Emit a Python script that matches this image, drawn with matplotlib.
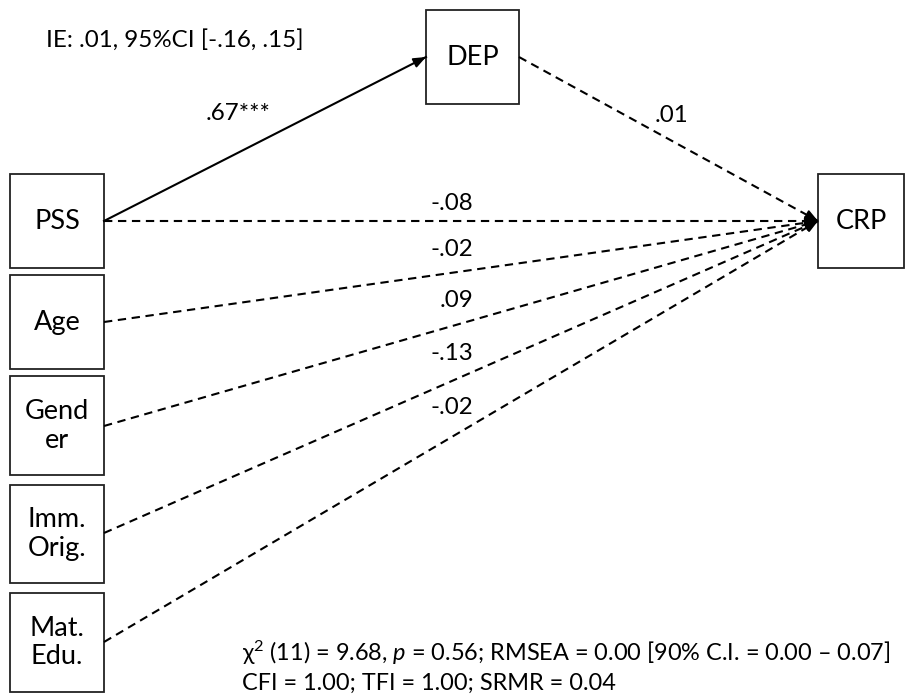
import matplotlib
matplotlib.use("Agg")
import matplotlib.pyplot as plt
from matplotlib.patches import Rectangle

plt.rcParams['font.family'] = ['Lato', 'DejaVu Sans']
plt.rcParams['mathtext.fontset'] = 'custom'
plt.rcParams['mathtext.rm'] = 'Lato'
plt.rcParams['mathtext.it'] = 'Lato:italic'

# path diagram content
predictors = ['PSS', 'Age', 'Gend\ner', 'Imm.\nOrig.', 'Mat.\nEdu.']
direct_coefs = ['-.08', '-.02', '.09', '-.13', '-.02']
a_path = '.67***'
b_path = '.01'
indirect_text = 'IE: .01, 95%CI [-.16, .15]'
fit_line1 = 'χ$^2$ (11) = 9.68, $p$ = 0.56; RMSEA = 0.00 [90% C.I. = 0.00 – 0.07]'
fit_line2 = 'CFI = 1.00; TFI = 1.00; SRMR = 0.04'

FS = 17.4
fig = plt.figure(figsize=(9.05, 6.94), dpi=100)
ax = fig.add_axes([0, 0, 1, 1])
ax.set_xlim(0, 905)
ax.set_ylim(694, 0)
ax.axis('off')

def box(x0, y0, x1, y1, label):
    ax.add_patch(Rectangle((x0, y0), x1 - x0, y1 - y0, fill=False, lw=1.3, ec='#222222'))
    ax.text((x0 + x1) / 2, (y0 + y1) / 2, label, ha='center', va='center',
            fontsize=19.5, linespacing=1.2)

def arrow(p0, p1, dashed=True):
    ls = (0, (4, 2.7)) if dashed else '-'
    ax.plot([p0[0], p1[0]], [p0[1], p1[1]], color='black', lw=1.5, linestyle=ls)
    dx, dy = p1[0] - p0[0], p1[1] - p0[1]
    d = (dx ** 2 + dy ** 2) ** 0.5
    start = (p1[0] - dx / d * 12, p1[1] - dy / d * 12)
    ax.annotate('', xy=p1, xytext=start,
                arrowprops=dict(arrowstyle='-|>,head_length=0.75,head_width=0.3',
                                color='black', lw=1.3, shrinkA=0, shrinkB=0))

# boxes
left_x0, left_x1 = 10, 104
tops = [174, 275, 376, 485, 593]
bottoms = [268, 369, 475, 583, 692]
for lab, t, b in zip(predictors, tops, bottoms):
    box(left_x0, t, left_x1, b, lab)
box(426, 10, 519, 104, 'DEP')
box(818, 174, 904, 268, 'CRP')

crp_in = (818, 221)
starts = [221, 322, 426, 533, 642]

# paths
arrow((104, 221), (426, 57), dashed=False)
arrow((519, 57), crp_in)
for y in starts:
    arrow((104, y), crp_in)

# coefficients
ax.text(238, 113, a_path, ha='center', va='center', fontsize=FS)
ax.text(671, 115, b_path, ha='center', va='center', fontsize=FS)
label_y = [203, 249, 300, 353, 407]
for c, y in zip(direct_coefs, label_y):
    ax.text(473, y, c, ha='right', va='center', fontsize=FS)

ax.text(46, 40, indirect_text, ha='left', va='center', fontsize=FS)
ax.text(242, 653, fit_line1, ha='left', va='center', fontsize=16.9)
ax.text(242, 683, fit_line2, ha='left', va='center', fontsize=16.9)

fig.savefig('out.png', dpi=100)
